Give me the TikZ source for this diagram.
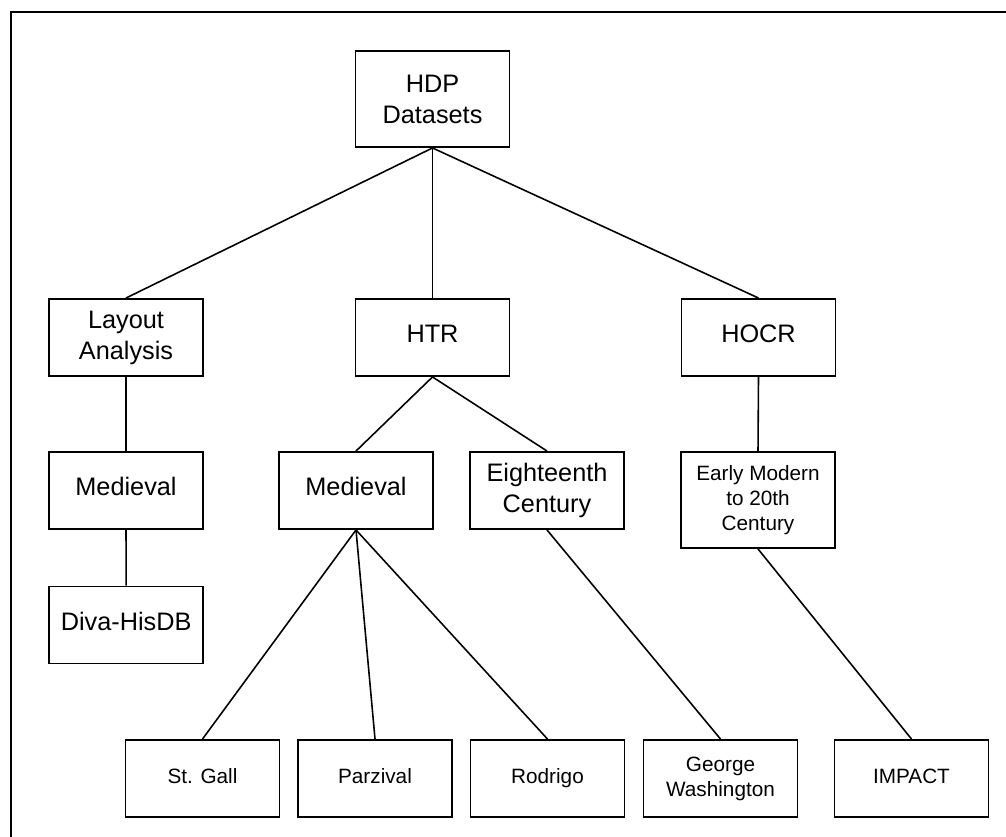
\documentclass[tikz,border=0pt]{standalone}
\usepackage{fontspec}
\setmainfont{Liberation Sans}
\begin{document}
\begin{tikzpicture}[
    x=0.02cm, y=-0.02cm,
    box/.style={draw, line width=1.1pt, minimum width=3.08cm, minimum height=1.54cm, align=center, inner sep=1pt, font=\fontsize{14.4}{17.6}\selectfont},
    leaf/.style={box, font=\fontsize{11.8}{14.2}\selectfont},
    tall/.style={minimum height=1.92cm},
    oneline/.style={text height=0.72em, text depth=0.14em},
    link/.style={line width=0.9pt}
]
    \useasboundingbox (0,0) rectangle (1006,837);
    \clip (0,0) rectangle (1006,837);
    \draw[line width=1.3pt] (11,12) rectangle (1030,870);

    \node[box, tall] (hdp) at (432.5, 99) {HDP\\Datasets};

    \node[box] (layout) at (126, 337.5) {Layout\\Analysis};
    \node[box, oneline] (htr) at (432.5, 337.5) {HTR};
    \node[box, oneline] (hocr) at (758.5, 337.5) {HOCR};

    \node[box, oneline] (medlayout) at (126, 490.5) {Medieval};
    \node[box, oneline] (diva) at (126.2, 625) {Diva-HisDB};

    \node[box, oneline] (medhtr) at (356, 490.5) {Medieval};
    \node[box] (eighteenth) at (547, 490.5) {Eighteenth\\Century};
    \node[leaf, tall] (early) at (758, 500) {Early Modern\\to 20th\\Century};

    \node[leaf, oneline] (stgall) at (202.5, 778.5) {St. Gall};
    \node[leaf, oneline] (parzival) at (375, 778.5) {Parzival};
    \node[leaf, oneline] (rodrigo) at (547.5, 778.5) {Rodrigo};
    \node[leaf] (washington) at (720.5, 778.5) {George\\Washington};
    \node[leaf, oneline] (impact) at (911.5, 778.5) {IMPACT};

    \draw[link] (hdp.south) -- (layout.north);
    \draw[link] (hdp.south) -- (htr.north);
    \draw[link] (hdp.south) -- (hocr.north);
    \draw[link] (layout.south) -- (medlayout.north);
    \draw[link] (medlayout.south) -- (diva.north);
    \draw[link] (htr.south) -- (medhtr.north);
    \draw[link] (htr.south) -- (eighteenth.north);
    \draw[link] (hocr.south) -- (early.north);
    \draw[link] (medhtr.south) -- (stgall.north);
    \draw[link] (medhtr.south) -- (parzival.north);
    \draw[link] (medhtr.south) -- (rodrigo.north);
    \draw[link] (eighteenth.south) -- (washington.north);
    \draw[link] (early.south) -- (impact.north);
\end{tikzpicture}
\end{document}
